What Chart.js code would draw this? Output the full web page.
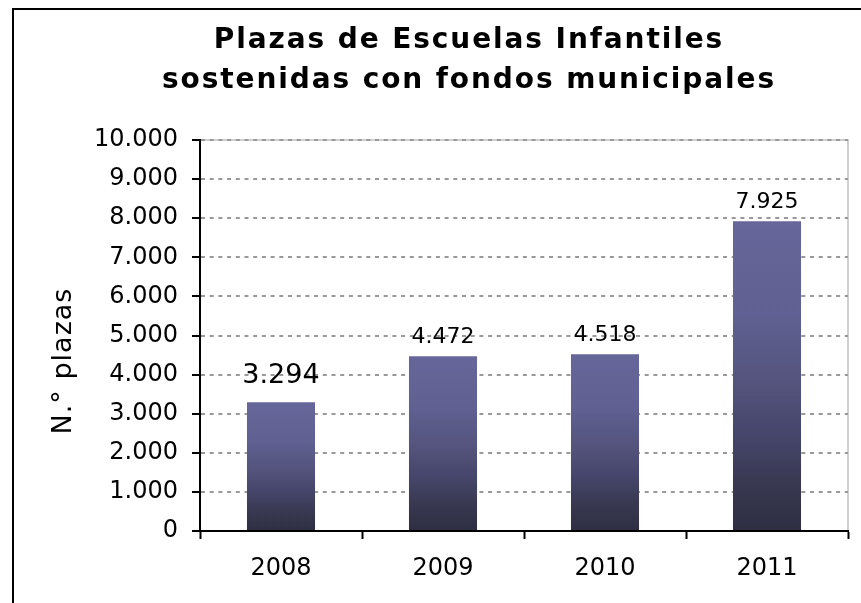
<!DOCTYPE html>
<html>
<head>
<meta charset="utf-8">
<script src="https://cdn.jsdelivr.net/npm/chart.js@4/dist/chart.umd.min.js"></script>
<style>
  html, body { margin: 0; padding: 0; background: #fff; overflow: hidden; }
  canvas { display: block; }
</style>
</head>
<body>
<canvas id="c" width="861" height="603"></canvas>
<script>
const categories = ['2008', '2009', '2010', '2011'];
const plazas = [3294, 4472, 4518, 7925];
const yTickValues = [0, 1000, 2000, 3000, 4000, 5000, 6000, 7000, 8000, 9000, 10000];
const titleLines = ['Plazas de Escuelas Infantiles', 'sostenidas con fondos municipales'];
const yAxisTitle = 'N.° plazas';

const FONT = "'DejaVu Sans', Verdana, sans-serif";
const fmt = v => String(v).replace(/\B(?=(\d{3})+(?!\d))/g, '.');

const framePlugin = {
  id: 'frame',
  afterLayout(chart) {
    const t = chart.titleBlock;
    if (t) {
      t.left = 13; t.right = 925; t.width = 912;
      if (!t._lsWrapped) {
        const orig = t.draw.bind(t);
        t.draw = function (area) {
          const ctx = chart.ctx;
          ctx.save();
          if ('letterSpacing' in ctx) ctx.letterSpacing = '1.9px';
          orig(area);
          ctx.restore();
        };
        t._lsWrapped = true;
      }
    }
  },
  beforeDraw(chart) {
    const ctx = chart.ctx;
    const a = chart.chartArea;
    ctx.save();
    ctx.strokeStyle = '#000';
    ctx.lineWidth = 2;
    ctx.strokeRect(13, 9, 2000, 2000);
    ctx.strokeStyle = '#c0c0c0';
    ctx.lineWidth = 1.5;
    ctx.strokeRect(a.left, a.top, a.right - a.left, a.bottom - a.top);
    ctx.restore();
  },
  afterDraw(chart) {
    const ctx = chart.ctx;
    ctx.save();
    ctx.font = "27px " + FONT;
    ctx.fillStyle = '#000';
    ctx.textAlign = 'center';
    ctx.textBaseline = 'middle';
    if ('letterSpacing' in ctx) ctx.letterSpacing = '1px';
    ctx.translate(64, 361);
    ctx.rotate(-Math.PI / 2);
    ctx.fillText(yAxisTitle, 0, 0);
    ctx.restore();
  }
};

const valueLabelPlugin = {
  id: 'valueLabels',
  afterDatasetsDraw(chart, args, opts) {
    const ctx = chart.ctx;
    const meta = chart.getDatasetMeta(0);
    ctx.save();
    ctx.fillStyle = '#000';
    ctx.textAlign = 'center';
    ctx.textBaseline = 'alphabetic';
    meta.data.forEach((bar, i) => {
      ctx.font = opts.sizes[i] + "px " + FONT;
      ctx.fillText(fmt(plazas[i]), bar.x, bar.y - opts.offsets[i]);
    });
    ctx.restore();
  }
};

function barGradient(c) {
  const chart = c.chart;
  if (c.type !== 'data' || !chart.chartArea || !chart.scales.y) return '#55557f';
  const y = chart.scales.y;
  const top = y.getPixelForValue(c.raw);
  const bot = y.getPixelForValue(0);
  const g = chart.ctx.createLinearGradient(0, top, 0, bot);
  g.addColorStop(0, '#66669a');
  g.addColorStop(0.3, '#606092');
  g.addColorStop(0.5, '#55557f');
  g.addColorStop(0.7, '#45456a');
  g.addColorStop(0.86, '#37374f');
  g.addColorStop(1, '#2e2e43');
  return g;
}

new Chart(document.getElementById('c'), {
  type: 'bar',
  data: {
    labels: categories,
    datasets: [{
      data: plazas,
      backgroundColor: barGradient,
      borderWidth: 0,
      barPercentage: 0.42,
      categoryPercentage: 1
    }]
  },
  options: {
    responsive: false,
    animation: false,
    devicePixelRatio: 1,
    layout: { padding: { left: 13, right: 13, top: 0, bottom: 0 } },
    plugins: {
      legend: { display: false },
      tooltip: { enabled: false },
      title: {
        display: true,
        text: titleLines,
        color: '#000',
        font: { family: FONT, size: 28, weight: 'bold', lineHeight: 40 / 28 },
        padding: { top: 21, bottom: 39 }
      },
      valueLabels: { sizes: [27, 22, 22, 22], offsets: [19, 13, 13, 13] }
    },
    scales: {
      x: {
        grid: {
          display: true,
          offset: true,
          drawOnChartArea: false,
          drawTicks: true,
          tickLength: 8,
          tickColor: '#000',
          tickWidth: 2
        },
        border: { display: true, color: '#000', width: 2 },
        ticks: { color: '#000', font: { family: FONT, size: 24 }, padding: 15 },
        afterFit(s) { s.height = 72; }
      },
      y: {
        min: 0,
        max: 10000,
        afterBuildTicks(s) { s.ticks = yTickValues.map(v => ({ value: v })); },
        grid: {
          color: '#999999',
          lineWidth: 2,
          drawTicks: true,
          tickLength: 8,
          tickColor: '#000',
          tickWidth: 2,
          tickBorderDash: []
        },
        border: { display: true, color: '#000', width: 2, dash: [4, 4.7] },
        ticks: {
          color: '#000',
          font: { family: FONT, size: 24 },
          padding: 14,
          callback: v => fmt(v)
        },
        afterFit(s) { s.width = 187; }
      }
    }
  },
  plugins: [framePlugin, valueLabelPlugin]
});
</script>
</body>
</html>
